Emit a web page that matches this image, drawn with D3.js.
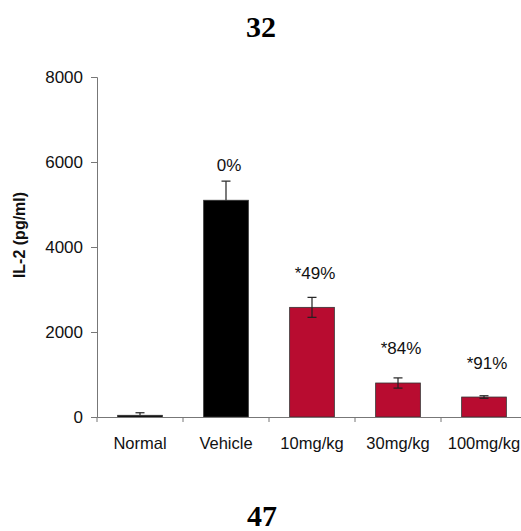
<!DOCTYPE html>
<html>
<head>
<meta charset="utf-8">
<script src="https://cdn.jsdelivr.net/npm/d3@7"></script>
<style>
  html, body { margin: 0; padding: 0; background: #fff; }
  svg { display: block; }
</style>
</head>
<body>
<div id="chart"></div>
<script>
// данные
const groups = ['Normal', 'Vehicle', '10mg/kg', '30mg/kg', '100mg/kg'];
const il2Values = [40, 5100, 2580, 800, 470];
const il2Errors = [60, 450, 235, 120, 30];
const inhibitionLabels = ['', '0%', '*49%', '*84%', '*91%'];
const labelLevels = [0, 5800, 3250, 1480, 1130];
const yTicks = [0, 2000, 4000, 6000, 8000];

const W = 521, H = 531;
const margin = { left: 97, top: 77, bottom: 417, right: 527 };

const svg = d3.select('#chart').append('svg')
  .attr('width', W)
  .attr('height', H);

const x = d3.scaleBand()
  .domain(groups)
  .range([margin.left, margin.right])
  .paddingInner(0.48)
  .paddingOuter(0.24);

const y = d3.scaleLinear()
  .domain([0, 8000])
  .range([margin.bottom, margin.top]);

const barColor = d => d === 'Vehicle' || d === 'Normal' ? '#000' : '#b80c30';

// номера страниц сверху и снизу
svg.append('text')
  .attr('x', 261).attr('y', 37)
  .attr('text-anchor', 'middle')
  .attr('font-family', '"Liberation Serif", "Times New Roman", serif')
  .attr('font-weight', 'bold')
  .attr('font-size', 30)
  .text('32');

svg.append('text')
  .attr('x', 262).attr('y', 526)
  .attr('text-anchor', 'middle')
  .attr('font-family', '"Liberation Serif", "Times New Roman", serif')
  .attr('font-weight', 'bold')
  .attr('font-size', 30)
  .text('47');

// ось Y
const yAxis = svg.append('g')
  .attr('transform', `translate(${margin.left},0)`)
  .call(d3.axisLeft(y).tickValues(yTicks).tickFormat(d3.format('d')).tickSize(6).tickPadding(8));
yAxis.select('.domain').attr('stroke', '#777');
yAxis.selectAll('.tick line').attr('stroke', '#777');
yAxis.selectAll('.tick text')
  .attr('font-family', '"Liberation Sans", Arial, sans-serif')
  .attr('font-size', 17)
  .attr('fill', '#111');

svg.append('text')
  .attr('transform', `translate(25,235) rotate(-90)`)
  .attr('text-anchor', 'middle')
  .attr('font-family', '"Liberation Sans", Arial, sans-serif')
  .attr('font-weight', 'bold')
  .attr('font-size', 16)
  .attr('fill', '#111')
  .text('IL-2 (pg/ml)');

// столбцы
const bars = svg.append('g');
bars.selectAll('rect')
  .data(groups)
  .join('rect')
  .attr('x', d => x(d))
  .attr('y', (d, i) => y(il2Values[i]))
  .attr('width', x.bandwidth())
  .attr('height', (d, i) => y(0) - y(il2Values[i]))
  .attr('fill', d => barColor(d))
  .attr('stroke', '#333')
  .attr('stroke-width', 0.8);

// планки погрешностей
const errG = svg.append('g').attr('stroke', '#222').attr('stroke-width', 1.2);
groups.forEach((g, i) => {
  const cx = x(g) + x.bandwidth() / 2;
  const top = y(il2Values[i] + il2Errors[i]);
  const bot = y(il2Values[i] - il2Errors[i]);
  const twoSided = barColor(g) !== '#000';
  errG.append('line').attr('x1', cx).attr('x2', cx).attr('y1', top)
    .attr('y2', twoSided ? bot : y(il2Values[i]));
  errG.append('line').attr('x1', cx - 4.5).attr('x2', cx + 4.5).attr('y1', top).attr('y2', top);
  if (twoSided) {
    errG.append('line').attr('x1', cx - 4.5).attr('x2', cx + 4.5).attr('y1', bot).attr('y2', bot);
  }
});

// ось X
const xAxis = svg.append('g')
  .attr('transform', `translate(0,${margin.bottom})`)
  .call(d3.axisBottom(x).tickSize(0).tickPadding(20));
xAxis.select('.domain').attr('stroke', '#777');
xAxis.selectAll('.tick text')
  .attr('font-family', '"Liberation Sans", Arial, sans-serif')
  .attr('font-size', 16.5)
  .attr('fill', '#111');

// деления между категориями
const step = x.step();
xAxis.selectAll('line.sep')
  .data(d3.range(groups.length + 1))
  .join('line')
  .attr('class', 'sep')
  .attr('x1', i => margin.left + i * step)
  .attr('x2', i => margin.left + i * step)
  .attr('y1', 0).attr('y2', 5)
  .attr('stroke', '#777');

// подписи процента ингибирования
svg.append('g').selectAll('text')
  .data(groups)
  .join('text')
  .attr('x', d => x(d) + x.bandwidth() / 2 + 3)
  .attr('y', (d, i) => y(labelLevels[i]))
  .attr('text-anchor', 'middle')
  .attr('font-family', '"Liberation Sans", Arial, sans-serif')
  .attr('font-size', 17)
  .attr('fill', '#111')
  .text((d, i) => inhibitionLabels[i]);
</script>
</body>
</html>
